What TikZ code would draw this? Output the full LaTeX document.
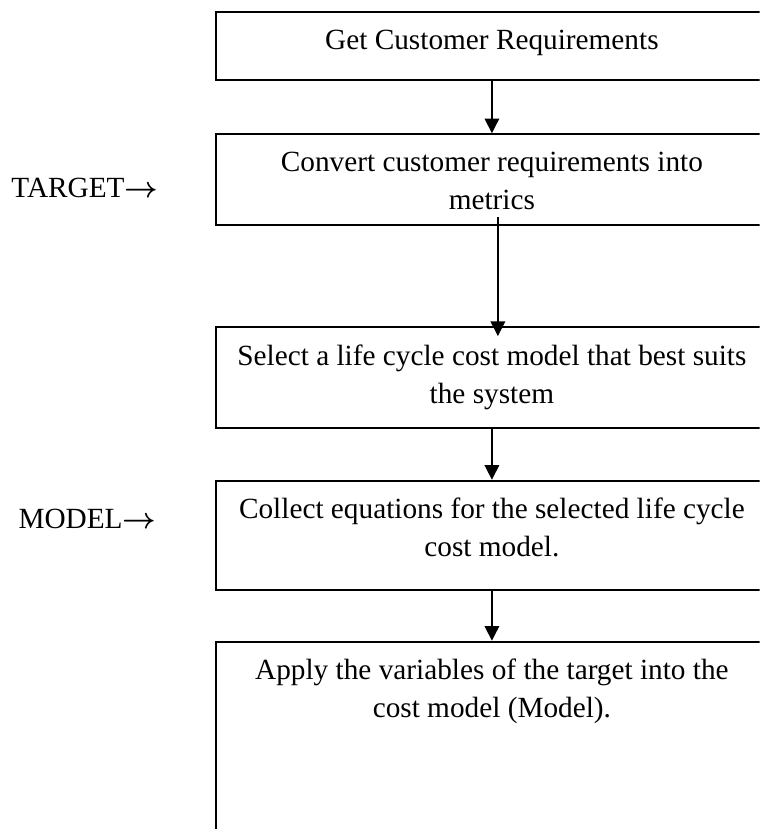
\documentclass[tikz,border=0pt]{standalone}
\usepackage{bm}
\usepackage{fontspec}
\setmainfont{Liberation Serif}
\usetikzlibrary{arrows.meta, positioning}

\begin{document}
\begin{tikzpicture}[
    node distance=0.75cm,
    flowbox/.style={rectangle, draw, line width=0.8pt, minimum width=7.95cm, inner sep=0pt},
    boxtext/.style={anchor=north, align=center, inner sep=0pt, font=\fontsize{12}{15.6}\selectfont},
    sidelabel/.style={anchor=base west, inner sep=0pt, font=\fontsize{12}{15.6}\selectfont},
    arrow/.style={-{Triangle[length=2.1mm, width=2.1mm]}, line width=0.6pt}
]
\useasboundingbox (0,0) rectangle (10.94,11.94);
\clip (0,0) rectangle (10.94,11.94);

% flow boxes, top to bottom
\node[flowbox, minimum height=0.98cm, anchor=north] (req) at (7.085,11.78) {};
\node[flowbox, minimum height=1.31cm, below=0.75cm of req] (metric) {};
\node[flowbox, minimum height=1.455cm, below=1.44cm of metric] (select) {};
\node[flowbox, minimum height=1.57cm, below=0.73cm of select] (eqn) {};
\node[flowbox, minimum height=3.6cm, below=0.72cm of eqn] (apply) {};

% box texts
\node[boxtext] (req_txt) at ([yshift=-0.26cm]req.north) {Get Customer Requirements};
\node[boxtext] (metric_txt) at ([yshift=-0.26cm]metric.north) {Convert customer requirements into\\metrics};
\node[boxtext] (select_txt) at ([yshift=-0.26cm]select.north) {Select a life cycle cost model that best suits\\the system};
\node[boxtext] (eqn_txt) at ([yshift=-0.26cm]eqn.north) {Collect equations for the selected life cycle\\cost model.};
\node[boxtext] (apply_txt) at ([yshift=-0.26cm]apply.north) {Apply the variables of the target into the\\cost model (Model).};

% side labels
\node[sidelabel] (target) at (0.158,9.10) {TARGET$\bm{\rightarrow}$};
\node[sidelabel] (model) at (0.26,4.334) {MODEL$\bm{\rightarrow}$};

% arrows
\draw[arrow] (req) -- (metric);
\draw[arrow] ([xshift=0.086cm, yshift=0.13cm]metric.south) -- ([xshift=0.086cm, yshift=-0.144cm]select.north);
\draw[arrow] (select) -- (eqn);
\draw[arrow] (eqn) -- (apply);
\end{tikzpicture}
\end{document}
